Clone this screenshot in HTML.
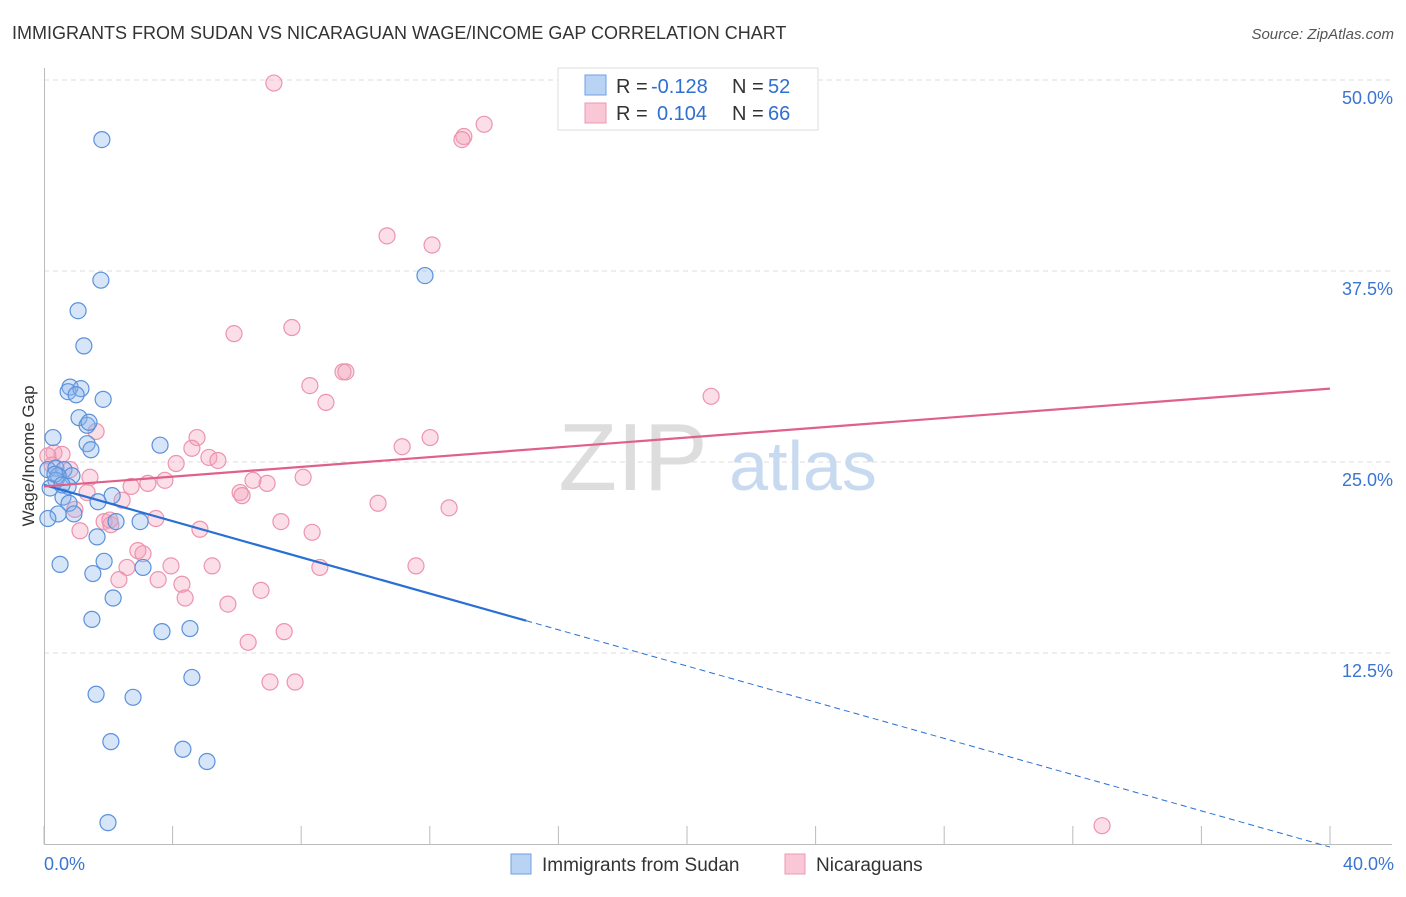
<!DOCTYPE html>
<html><head><meta charset="utf-8"><style>
body{margin:0;background:#fff;font-family:"Liberation Sans",sans-serif;}
svg text{font-family:"Liberation Sans",sans-serif;}
</style></head><body>
<svg id="chart" width="1406" height="892">
<text x="12" y="39" font-size="18" fill="#333">IMMIGRANTS FROM SUDAN VS NICARAGUAN WAGE/INCOME GAP CORRELATION CHART</text>
<text x="1394" y="39" font-size="15" fill="#555" font-style="italic" text-anchor="end">Source: ZipAtlas.com</text>
<text x="0" y="0" transform="translate(34,456) rotate(-90)" font-size="17" fill="#333" text-anchor="middle">Wage/Income Gap</text>
<g id="grid"></g>
<text x="633" y="490" font-size="96" fill="#ddd" font-family="Liberation Serif" text-anchor="middle">ZIP</text>
<text x="803" y="490" font-size="70" fill="#c8daf0" text-anchor="middle">atlas</text>
<g id="marks"></g>
<g>
<rect x="558" y="68" width="260" height="62" fill="#fff" stroke="#ddd"/>
<rect x="585" y="75" width="21" height="20" fill="#b9d3f5" stroke="#6f9fe0"/>
<rect x="585" y="103" width="21" height="20" fill="#f9c7d6" stroke="#eb9ab3"/>
<text x="616" y="93" font-size="20" fill="#333">R = </text><text x="651" y="93" font-size="20" fill="#2f6fd0">-0.128</text>
<text x="732" y="93" font-size="20" fill="#333">N = </text><text x="768" y="93" font-size="20" fill="#2f6fd0">52</text>
<text x="616" y="120" font-size="20" fill="#333">R = </text><text x="657" y="120" font-size="20" fill="#2f6fd0">0.104</text>
<text x="732" y="120" font-size="20" fill="#333">N = </text><text x="768" y="120" font-size="20" fill="#2f6fd0">66</text>
</g>
<g>
<rect x="511" y="854" width="20" height="20" fill="#b9d3f5" stroke="#6f9fe0"/>
<text x="542" y="871" font-size="19" fill="#333">Immigrants from Sudan</text>
<rect x="785" y="854" width="20" height="20" fill="#f9c7d6" stroke="#eb9ab3"/>
<text x="816" y="871" font-size="19" fill="#333">Nicaraguans</text>
</g>
<text x="44" y="870" font-size="18" fill="#3a75d0">0.0%</text>
<text x="1394" y="870" font-size="18" fill="#3a75d0" text-anchor="end">40.0%</text>
</svg>
<script>
const yTicks=[12.5,25,37.5,50];
const yTickLabels=["12.5%","25.0%","37.5%","50.0%"];
const xTicks=[0,4,8,12,16,20,24,28,32,36,40];
const sudanX=[1.80,1.77,1.06,1.24,0.81,0.75,1.15,1.00,1.84,1.09,1.34,1.40,1.34,1.46,3.61,0.28,0.12,0.37,0.62,0.87,0.44,0.37,0.19,0.75,0.59,0.78,2.12,1.68,0.93,0.44,0.12,2.24,2.99,1.65,0.50,1.87,1.52,3.08,2.15,1.49,3.67,4.54,11.85,4.60,1.62,2.77,2.08,4.32,5.07,1.99,0.34,0.56];
const sudanY=[46.1,36.9,34.9,32.6,29.9,29.6,29.8,29.4,29.1,27.9,27.4,27.6,26.2,25.8,26.1,26.6,24.5,24.6,24.5,24.1,24.1,23.8,23.3,23.4,22.7,22.3,22.8,22.4,21.6,21.6,21.3,21.1,21.1,20.1,18.3,18.5,17.7,18.1,16.1,14.7,13.9,14.1,37.2,10.9,9.8,9.6,6.7,6.2,5.4,1.4,24.2,23.5];
const nicX=[7.15,13.69,13.06,13.00,10.67,12.07,7.71,5.91,8.27,9.30,9.39,8.77,20.75,1.62,4.76,12.01,11.14,4.60,5.13,5.41,4.11,0.31,0.56,1.43,3.76,3.23,2.71,6.50,6.94,8.06,6.10,6.16,2.43,1.34,0.96,10.39,12.60,3.48,4.85,7.37,8.34,1.12,1.87,2.08,2.92,3.08,2.58,3.95,5.23,8.58,11.57,2.33,3.55,4.29,6.75,4.39,5.72,7.47,6.35,7.03,7.81,32.91,0.12,0.25,0.81,2.05];
const nicY=[49.8,47.1,46.3,46.1,39.8,39.2,33.8,33.4,30.0,30.9,30.9,28.9,29.3,27.0,26.6,26.6,26.0,25.9,25.3,25.1,24.9,25.6,25.5,24.0,23.8,23.6,23.4,23.8,23.6,24.0,23.0,22.8,22.5,23.0,21.9,22.3,22.0,21.3,20.6,21.1,20.4,20.5,21.1,20.9,19.2,19.0,18.1,18.2,18.2,18.1,18.2,17.3,17.3,17.0,16.6,16.1,15.7,13.9,13.2,10.6,10.6,1.2,25.4,24.8,24.5,21.2];
const sudanTrend=[23.5,-0.2];
const nicTrend=[23.4,29.8];
const NS="http://www.w3.org/2000/svg";
const X=v=>44+v*32.15, Y=v=>844-v*15.28;
function mk(tag,attrs,parent){const e=document.createElementNS(NS,tag);for(const k in attrs)e.setAttribute(k,attrs[k]);parent.appendChild(e);return e;}
const grid=document.getElementById('grid'), marks=document.getElementById('marks');
yTicks.forEach((t,i)=>{
 const l=mk('line',{x1:44,x2:1392,y1:Y(t),y2:Y(t),stroke:'#ddd','stroke-dasharray':'5,4'},grid);
 
 
 const tx=mk('text',{x:1393,y:Y(t)+24,'font-size':18,fill:'#3a75d0','text-anchor':'end'},grid);
 tx.textContent=yTickLabels[i];
 
 
});
const ax=mk('line',{x1:44,x2:1392,y1:844.5,y2:844.5,stroke:'#bbb'},grid);


const ay=mk('line',{x1:44.5,x2:44.5,y1:68,y2:844,stroke:'#bbb'},grid);


xTicks.forEach(t=>{
 const l=mk('line',{x1:X(t),x2:X(t),y1:826,y2:844,stroke:'#bbb'},grid);
 
 
});
nicX.forEach((v,i)=>{
 const c=mk('circle',{cx:X(v),cy:Y(nicY[i]),r:8,fill:'rgba(244,160,185,0.35)',stroke:'#ec94ae','stroke-width':1.2},marks);
 
 
});
sudanX.forEach((v,i)=>{
 const c=mk('circle',{cx:X(v),cy:Y(sudanY[i]),r:8,fill:'rgba(140,180,235,0.35)',stroke:'#5b91dc','stroke-width':1.2},marks);
 
 
});
const sAt=x=>sudanTrend[0]+(sudanTrend[1]-sudanTrend[0])*x/40;
const t1=mk('line',{x1:X(0),y1:Y(sAt(0)),x2:X(15),y2:Y(sAt(15)),stroke:'#2a6fd4','stroke-width':2.2},marks);


const t2=mk('line',{x1:X(15),y1:Y(sAt(15)),x2:X(40),y2:Y(sAt(40)),stroke:'#2a6fd4','stroke-width':1,'stroke-dasharray':'6,4'},marks);


const t3=mk('line',{x1:X(0),y1:Y(nicTrend[0]),x2:X(40),y2:Y(nicTrend[1]),stroke:'#e0608a','stroke-width':2.2},marks);


</script>
</body></html>
